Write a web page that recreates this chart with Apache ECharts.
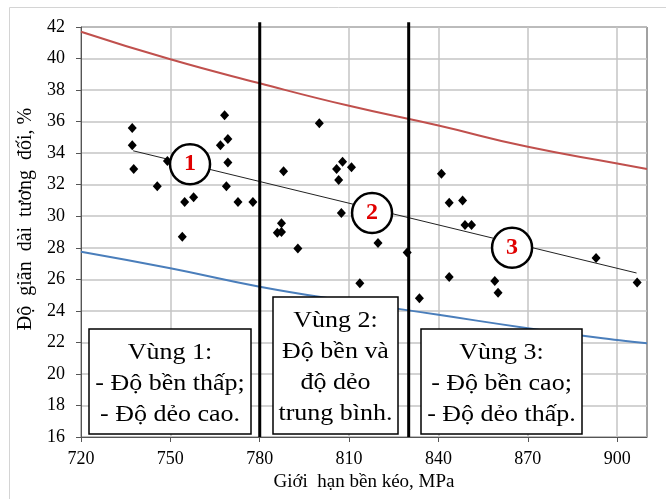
<!DOCTYPE html>
<html>
<head>
<meta charset="utf-8">
<script src="https://cdn.jsdelivr.net/npm/echarts@6/dist/echarts.min.js"></script>
<style>
  html, body { margin: 0; padding: 0; background: #fff; }
  #chart { width: 666px; height: 499px; }
</style>
</head>
<body>
<div id="chart"></div>
<script>
// Tensile strength (MPa) and elongation (%) of the tested samples
const strengthMPa = [737.2, 737.2, 737.7, 745.6, 749.0, 754.8, 757.8, 754.0, 768.2, 769.3,
                     766.8, 769.3, 768.8, 772.7, 777.7, 800.0, 788.0, 807.8, 805.8, 810.8,
                     806.5, 807.4, 787.3, 785.9, 787.3, 792.8, 819.7, 813.6, 829.5, 833.6,
                     841.0, 843.6, 848.1, 848.9, 851.1, 843.6, 858.9, 860.0, 892.9, 906.7];
const elongationPct = [35.6, 34.5, 33.0, 31.9, 33.5, 30.9, 31.2, 28.7, 36.4, 34.9,
                       34.5, 33.4, 31.9, 30.9, 30.9, 35.9, 32.85, 33.45, 33.0, 33.1,
                       32.3, 30.2, 29.55, 28.95, 29.0, 27.95, 28.3, 25.75, 27.7, 24.8,
                       32.7, 30.85, 31.0, 29.45, 29.45, 26.15, 25.9, 25.15, 27.35, 25.8];

// Upper and lower limit curves
const upperX = [720, 750, 780, 810, 840, 870, 900, 910];
const upperY = [41.7, 39.95, 38.43, 37.0, 35.75, 34.4, 33.35, 33.0];
const lowerX = [720, 750, 780, 810, 840, 870, 900, 910];
const lowerY = [27.75, 26.7, 25.53, 24.6, 23.75, 22.9, 22.15, 21.95];

// Linear trend through the samples
const trendX = [737.5, 906.5];
const trendY = [34.15, 26.4];

// Zone boundaries (MPa) and zone markers on the trend line
const zoneBounds = [780, 830];
const zoneNames = ['1', '2', '3'];
const zoneMarkX = [756.6, 817.7, 864.7];
const zoneMarkY = [33.3, 30.2, 28.0];

// Axis ranges and labelled ticks
const xMin = 720, xMax = 910, xStep = 10;
const xTickLabels = [720, 750, 780, 810, 840, 870, 900];
const yMin = 16, yMax = 42, yStep = 2;

const zoneTexts = [
  'Vùng 1:\n- Độ bền thấp;\n- Độ dẻo cao.',
  'Vùng 2:\nĐộ bền và\nđộ dẻo\ntrung bình.',
  'Vùng 3:\n- Độ bền cao;\n- Độ dẻo thấp.'
];

const pairs = (xs, ys) => xs.map((x, i) => [x, ys[i]]);
const serif = '"Liberation Serif", "Times New Roman", serif';

const chart = echarts.init(document.getElementById('chart'), null, { renderer: 'canvas' });

// White annotation box with centred, slightly widened serif text
function zoneBox(text, x, y, w, h) {
  return {
    type: 'group', x: x, y: y,
    children: [
      { type: 'rect', z: 100, zlevel: 1, shape: { x: 0, y: 0, width: w, height: h },
        style: { fill: '#fff', stroke: '#000', lineWidth: 1.5 } },
      { type: 'text', z: 101, zlevel: 1, x: w / 2, y: h / 2 + 2, scaleX: 1.13,
        style: { text: text, font: '23px ' + serif, fill: '#000',
                 align: 'center', verticalAlign: 'middle', lineHeight: 31 } }
    ]
  };
}

const boundarySeries = zoneBounds.map(b => ({
  type: 'line',
  data: [[b, yMin], [b, 42.3]],
  symbol: 'none',
  clip: false,
  z: 4,
  lineStyle: { color: '#000', width: 3 },
  silent: true
}));

chart.setOption({
  animation: false,
  backgroundColor: '#fff',
  grid: { left: 81, right: 19, top: 27, bottom: 62, show: true,
          borderColor: '#444', borderWidth: 1, backgroundColor: '#fff' },
  xAxis: {
    type: 'value', min: xMin, max: xMax, interval: xStep,
    name: 'Giới  hạn bền kéo, MPa', nameLocation: 'middle', nameGap: 36,
    nameTextStyle: { fontFamily: serif, fontSize: 19, color: '#000' },
    axisLine: { show: true, lineStyle: { color: '#555', width: 1 } },
    axisTick: { show: true, inside: false, length: 5, customValues: xTickLabels,
                lineStyle: { color: '#555' } },
    axisLabel: { customValues: xTickLabels, fontFamily: serif, fontSize: 18,
                 color: '#000', margin: 13 },
    splitLine: { show: true, lineStyle: { color: '#c4c4c4', width: 1.5 } }
  },
  yAxis: {
    type: 'value', min: yMin, max: yMax, interval: yStep,
    name: 'Độ  giãn  dài  tương  đối, %', nameLocation: 'middle', nameGap: 34,
    nameRotate: 90,
    nameTextStyle: { fontFamily: serif, fontSize: 20, color: '#000', padding: [0, 0, 0, 26] },
    axisLine: { show: true, lineStyle: { color: '#555', width: 1 } },
    axisTick: { show: true, inside: false, length: 5, lineStyle: { color: '#555' } },
    axisLabel: { fontFamily: serif, fontSize: 18, color: '#000', margin: 16 },
    splitLine: { show: true, lineStyle: { color: '#c4c4c4', width: 1.5 } }
  },
  series: [
    {
      type: 'line', data: pairs(upperX, upperY), smooth: true, symbol: 'none',
      lineStyle: { color: '#c0504d', width: 2 }, z: 3, silent: true
    },
    {
      type: 'line', data: pairs(lowerX, lowerY), smooth: true, symbol: 'none',
      lineStyle: { color: '#4a7ebb', width: 2 }, z: 3, silent: true
    },
    {
      type: 'line', data: pairs(trendX, trendY), symbol: 'none',
      lineStyle: { color: '#222', width: 1 }, z: 3, silent: true
    },
    ...boundarySeries,
    {
      type: 'scatter', data: pairs(strengthMPa, elongationPct),
      symbol: 'diamond', symbolSize: [9, 10],
      itemStyle: { color: '#000', opacity: 1 }, z: 5
    },
    {
      type: 'scatter',
      data: zoneNames.map((n, i) => ({ name: n, value: [zoneMarkX[i], zoneMarkY[i]] })),
      symbol: 'circle', symbolSize: 40, z: 6,
      itemStyle: { color: '#fff', borderColor: '#000', borderWidth: 2.5, opacity: 1 },
      label: { show: true, position: 'inside', formatter: p => p.name,
               fontFamily: serif, fontSize: 24, fontWeight: 'bold', color: '#e00000' }
    }
  ],
  graphic: [
    // frame around the chart area
    { type: 'rect', shape: { x: 9.5, y: 7.5, width: 700, height: 600 },
      style: { fill: 'none', stroke: '#d4d4d4', lineWidth: 1 }, z: 0, silent: true },
    zoneBox(zoneTexts[0], 89, 329, 162, 105),
    zoneBox(zoneTexts[1], 273, 297, 125, 137),
    zoneBox(zoneTexts[2], 421, 329, 161, 105)
  ]
});
</script>
</body>
</html>
